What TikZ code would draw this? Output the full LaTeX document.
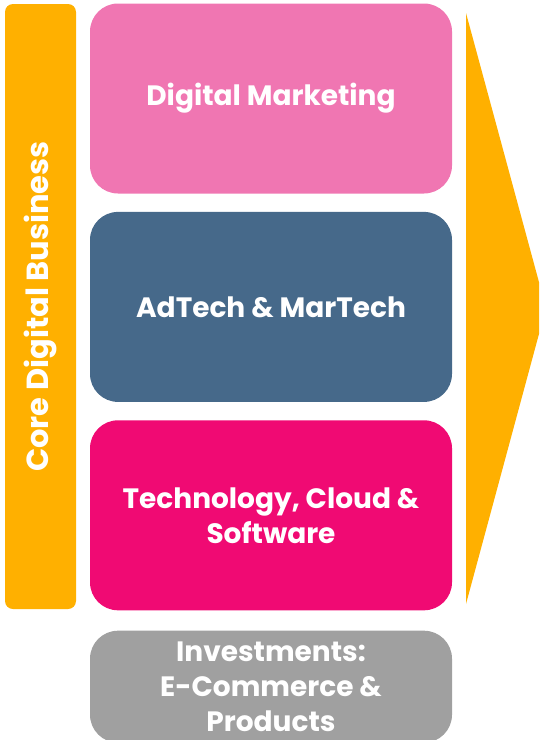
\documentclass[tikz,border=0pt]{standalone}
\usepackage{fontspec}
\setmainfont{Poppins}[UprightFont=* SemiBold,BoldFont=* Bold]
\usepackage{tikz}
\usetikzlibrary{positioning}

\definecolor{coreorange}{RGB}{255,176,0}
\definecolor{mktpink}{RGB}{240,118,178}
\definecolor{adblue}{RGB}{70,105,138}
\definecolor{techmagenta}{RGB}{240,10,115}
\definecolor{invgrey}{RGB}{160,160,160}

\begin{document}
\begin{tikzpicture}[x=1pt,y=-1pt,node distance=18pt,
    segment/.style={rounded corners=28pt,minimum width=362pt,minimum height=190pt,
      text=white,align=center,font=\fontsize{28}{35}\selectfont\bfseries,inner sep=0pt}]
  \useasboundingbox (0,0) rectangle (539,740);
  \clip (0,0) rectangle (539,740);

  % left bar
  \node[fill=coreorange,rounded corners=8pt,minimum width=71pt,minimum height=605pt,inner sep=0pt] (core) at (40.5,306.5) {};
  \node[text=white,font=\fontsize{30.5}{31}\selectfont\bfseries,rotate=90] (corelabel) at (core.center) {Core Digital Business};

  % segments
  \node[segment,fill=mktpink] (mkt) at (271,98.5) {Digital Marketing};
  \node[segment,fill=adblue] (adtech) [below = of mkt] {AdTech \& MarTech};
  \node[segment,fill=techmagenta] (tech) [below = of adtech] {Technology, Cloud \&\\Software};
  \node[segment,fill=invgrey,minimum height=112pt] (inv) [below = 20pt of tech] {Investments:\\E-Commerce \&\\Products};

  % arrow
  \coordinate (atop) at (466,13);
  \coordinate (atip) at (546,308);
  \coordinate (abot) at (466,604);
  \fill[coreorange] (atop) -- (atip) -- (abot) -- cycle;
\end{tikzpicture}
\end{document}
